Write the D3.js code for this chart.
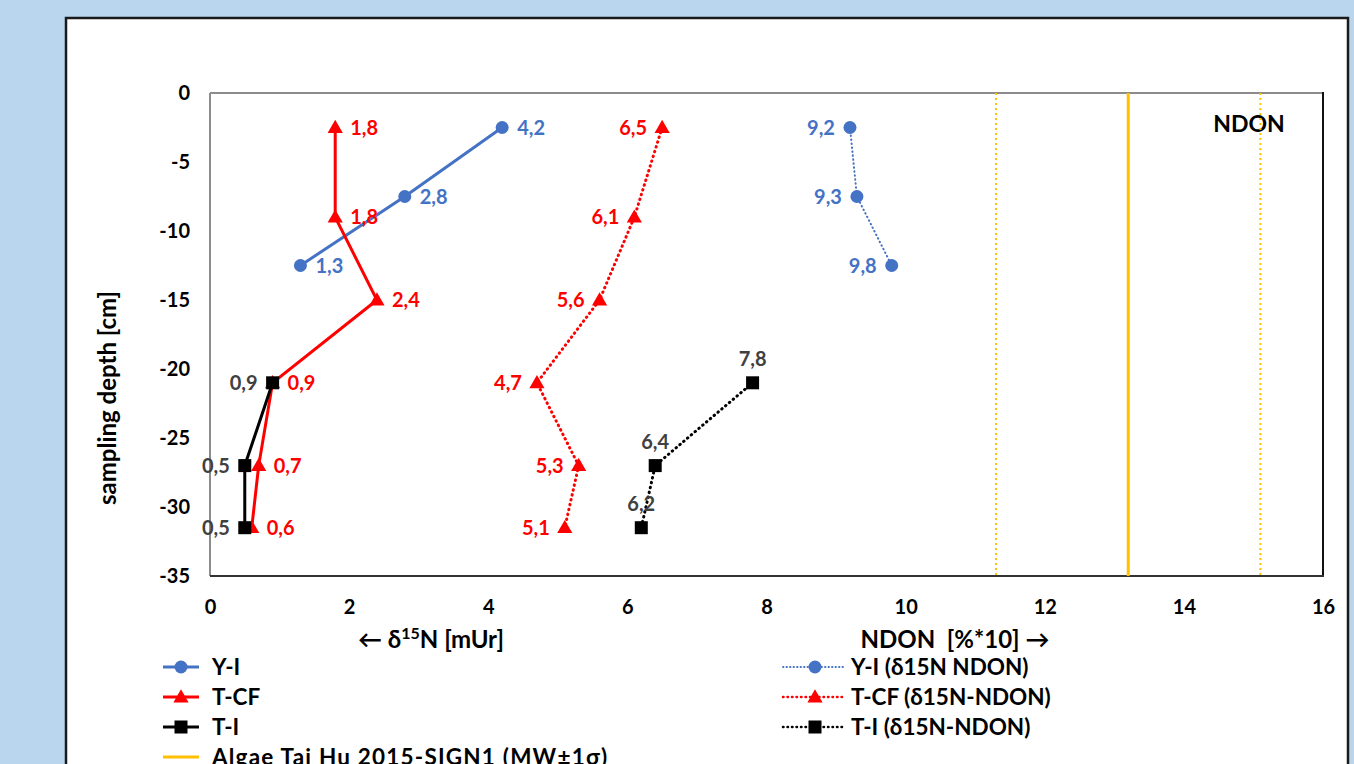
<!DOCTYPE html>
<html><head><meta charset="utf-8">
<script src="https://cdn.jsdelivr.net/npm/d3@7"></script>
<style>
html,body{margin:0;padding:0;background:#BAD6EE;}
svg{display:block;font-family:Lato,"Open Sans",sans-serif;font-weight:bold;}
</style></head>
<body><svg id="c" width="1354" height="764"></svg>
<script>
// ---- data ----
const depthsYI = [-2.5, -7.5, -12.5];
const yiD15N = [4.2, 2.8, 1.3];
const yiNDON = [9.2, 9.3, 9.8];
const depthsTCF = [-2.5, -9, -15, -21, -27, -31.5];
const tcfD15N = [1.8, 1.8, 2.4, 0.9, 0.7, 0.6];
const tcfNDON = [6.5, 6.1, 5.6, 4.7, 5.3, 5.1];
const depthsTI = [-21, -27, -31.5];
const tiD15N = [0.9, 0.5, 0.5];
const tiNDON = [7.8, 6.4, 6.2];
const algaeMean = 13.2, algaeSd = 1.9;
const xTicks = [0, 2, 4, 6, 8, 10, 12, 14, 16];
const yTicks = [0, -5, -10, -15, -20, -25, -30, -35];

const svg = d3.select("#c");
// panel
svg.append("rect").attr("x", 66).attr("y", 18).attr("width", 1282).attr("height", 760)
  .attr("fill", "#fff").attr("stroke", "#1a1a1a").attr("stroke-width", 2.5);

const L = 210, R = 1323, T = 93, B = 576;
const x = d3.scaleLinear().domain([0, 16]).range([L, R]);
const y = d3.scaleLinear().domain([-35, 0]).range([B, T]);

// plot frame
svg.append("line").attr("x1", L).attr("x2", R).attr("y1", T).attr("y2", T).attr("stroke", "#8c8c8c").attr("stroke-width", 2);
svg.append("line").attr("x1", L).attr("x2", L).attr("y1", T).attr("y2", B).attr("stroke", "#8c8c8c").attr("stroke-width", 2);
svg.append("line").attr("x1", R).attr("x2", R).attr("y1", T - 1).attr("y2", B).attr("stroke", "#111").attr("stroke-width", 2);
svg.append("line").attr("x1", L).attr("x2", R + 1).attr("y1", B).attr("y2", B).attr("stroke", "#333").attr("stroke-width", 2);

const tickFmt = d => String(d);
// axes tick labels
const xa = svg.append("g").attr("transform", `translate(0,${B + 31})`)
  .call(d3.axisBottom(x).tickValues(xTicks).tickSize(0).tickFormat(tickFmt));
xa.select(".domain").remove();
xa.selectAll("text").attr("font-size", 20).attr("font-family", "Lato").attr("font-weight", "bold").attr("fill", "#000").attr("dy", "0.35em").attr("y", 0);
const ya = svg.append("g").attr("transform", `translate(190,0)`)
  .call(d3.axisLeft(y).tickValues(yTicks).tickSize(0).tickFormat(tickFmt));
ya.select(".domain").remove();
ya.selectAll("text").attr("font-size", 20).attr("font-family", "Lato").attr("font-weight", "bold").attr("fill", "#000").attr("x", 0);

// axis titles
svg.append("text").attr("transform", "translate(116,398) rotate(-90)").attr("text-anchor", "middle")
  .attr("font-size", 24).text("sampling depth [cm]");
svg.append("text").attr("x", 431).attr("y", 648).attr("text-anchor", "middle").attr("font-size", 24)
  .html("← δ<tspan font-size='16' dy='-9'>15</tspan><tspan dy='9'>N [mUr]</tspan>");
svg.append("text").attr("x", 955).attr("y", 648).attr("text-anchor", "middle").attr("font-size", 24)
  .attr("xml:space", "preserve").text("NDON  [%*10] →");
svg.append("text").attr("x", 1249).attr("y", 132).attr("text-anchor", "middle").attr("font-size", 23).text("NDON");

// algae lines
const algae = [algaeMean - algaeSd, algaeMean, algaeMean + algaeSd];
svg.selectAll(".alg").data(algae).enter().append("line")
  .attr("x1", d => x(d)).attr("x2", d => x(d)).attr("y1", T).attr("y2", B)
  .attr("stroke", "#FFC000").attr("stroke-width", (d, i) => i === 1 ? 3 : 2)
  .attr("stroke-dasharray", (d, i) => i === 1 ? null : "2,3");

const fmt = v => d3.format(".1f")(v).replace(".", ",");
const blue = "#4472C4", red = "#FF0000", blk = "#000", gray = "#404040";

function marker(g, type, color, cx, cy) {
  if (type === "circle") g.append("circle").attr("cx", cx).attr("cy", cy).attr("r", 6.5).attr("fill", color);
  else if (type === "tri") g.append("path").attr("d", d3.symbol().type(d3.symbolTriangle).size(100)()).attr("transform", `translate(${cx},${cy + 1})`).attr("fill", color);
  else g.append("rect").attr("x", cx - 6.5).attr("y", cy - 6.5).attr("width", 13).attr("height", 13).attr("fill", color);
}

function series(xs, ds, color, type, dash, width, lblColor, lblPos) {
  const pts = xs.map((v, i) => [v, ds[i]]);
  const g = svg.append("g");
  g.append("path").datum(pts)
    .attr("d", d3.line().x(d => x(d[0])).y(d => y(d[1])))
    .attr("fill", "none").attr("stroke", color).attr("stroke-width", width)
    .attr("stroke-dasharray", dash).attr("stroke-linecap", dash ? "round" : "butt");
  pts.forEach(p => marker(g, type, color, x(p[0]), y(p[1])));
  pts.forEach(p => {
    const t = g.append("text").attr("fill", lblColor).attr("font-size", 20).text(fmt(p[0]));
    if (lblPos === "right") t.attr("x", x(p[0]) + 15).attr("y", y(p[1]) + 7);
    else if (lblPos === "left") t.attr("x", x(p[0]) - 15).attr("y", y(p[1]) + 7).attr("text-anchor", "end");
    else t.attr("x", x(p[0])).attr("y", y(p[1]) - 17).attr("text-anchor", "middle");
  });
}

series(yiNDON, depthsYI, blue, "circle", "0.5,3.5", 2, blue, "left");
series(tcfNDON, depthsTCF, red, "tri", "0.5,4.5", 3, red, "left");
series(tiNDON, depthsTI, blk, "square", "0.5,4.5", 3, gray, "top");
series(yiD15N, depthsYI, blue, "circle", null, 3, blue, "right");
series(tcfD15N, depthsTCF, red, "tri", null, 3, red, "right");
series(tiD15N, depthsTI, blk, "square", null, 3, gray, "left");

// legend
const legL = [
  { name: "Y-I", color: blue, type: "circle" },
  { name: "T-CF", color: red, type: "tri" },
  { name: "T-I", color: blk, type: "square" },
  { name: "Algae Tai Hu 2015-SIGN1 (MW±1σ)", color: "#FFC000", type: null }
];
legL.forEach((d, i) => {
  const cy = 667 + i * 30;
  svg.append("line").attr("x1", 163).attr("x2", 199).attr("y1", cy).attr("y2", cy)
    .attr("stroke", d.color).attr("stroke-width", 3);
  if (d.type) marker(svg, d.type, d.color, 181, cy);
  svg.append("text").attr("x", 212).attr("y", cy + 8).attr("font-size", 22.5)
    .attr("letter-spacing", d.type ? 0 : 1.2).text(d.name);
});
const legR = [
  { name: "Y-I (δ15N NDON)", color: blue, type: "circle", dash: "0.5,3", w: 1.8 },
  { name: "T-CF (δ15N-NDON)", color: red, type: "tri", dash: "0.5,4", w: 2.5 },
  { name: "T-I (δ15N-NDON)", color: blk, type: "square", dash: "0.5,4", w: 2.5 }
];
legR.forEach((d, i) => {
  const cy = 667 + i * 30;
  svg.append("line").attr("x1", 783).attr("x2", 846).attr("y1", cy).attr("y2", cy)
    .attr("stroke", d.color).attr("stroke-width", d.w).attr("stroke-dasharray", d.dash).attr("stroke-linecap", "round");
  marker(svg, d.type, d.color, 815, cy);
  svg.append("text").attr("x", 851).attr("y", cy + 8).attr("font-size", 22.5).text(d.name);
});
</script></body></html>
